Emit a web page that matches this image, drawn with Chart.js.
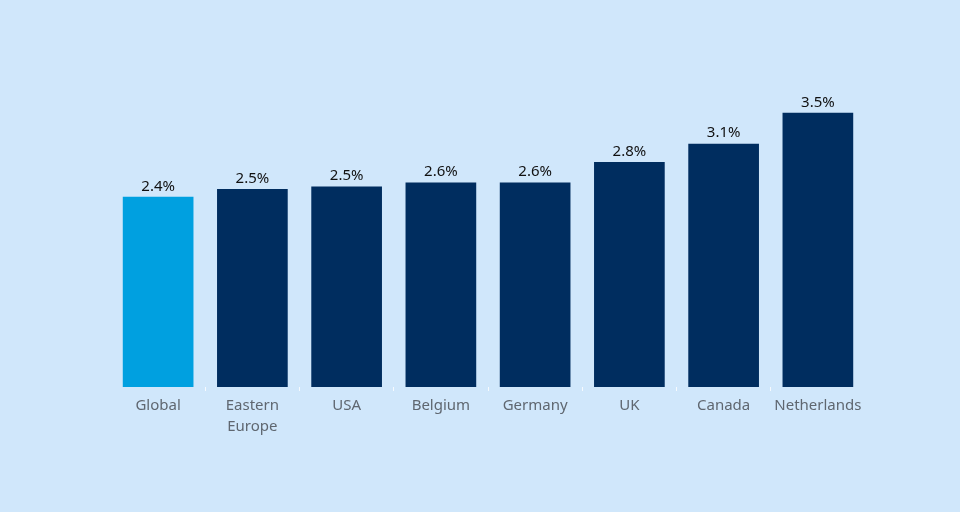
<!DOCTYPE html>
<html>
<head>
<meta charset="utf-8">
<script src="https://cdn.jsdelivr.net/npm/chart.js@4"></script>
<style>
  html, body { margin: 0; padding: 0; background: #d0e7fb; }
  #wrap { width: 960px; height: 512px; }
</style>
</head>
<body>
<div id="wrap"><canvas id="chart"></canvas></div>
<script>
const categories = ["Global", ["Eastern", "Europe"], "USA", "Belgium", "Germany", "UK", "Canada", "Netherlands"];
const growth = [2.4, 2.5, 2.53, 2.58, 2.58, 2.84, 3.07, 3.46];
const barColors = ["#00a0e0", "#002d5f", "#002d5f", "#002d5f", "#002d5f", "#002d5f", "#002d5f", "#002d5f"];

// value labels above bars
const valueLabels = {
    id: "valueLabels",
    afterDatasetsDraw(chart) {
        const ctx = chart.ctx;
        const meta = chart.getDatasetMeta(0);
        ctx.save();
        ctx.font = "15px 'Noto Sans'";
        ctx.fillStyle = "#111111";
        ctx.textAlign = "center";
        ctx.textBaseline = "bottom";
        meta.data.forEach(function (bar, i) {
            ctx.fillText(growth[i].toFixed(1) + "%", bar.x, bar.y - 3);
        });
        ctx.restore();
    }
};

const ctx = document.getElementById("chart").getContext("2d");
new Chart(ctx, {
    type: "bar",
    data: {
        labels: categories,
        datasets: [{
            data: growth,
            backgroundColor: barColors,
            barPercentage: 0.75,
            categoryPercentage: 1.0
        }]
    },
    options: {
        responsive: true,
        maintainAspectRatio: false,
        animation: false,
        layout: { padding: { left: 111, right: 95, top: 70, bottom: 55 } },
        plugins: { legend: { display: false }, tooltip: { enabled: false } },
        scales: {
            x: {
                grid: {
                    display: true,
                    drawOnChartArea: false,
                    offset: true,
                    tickLength: 4,
                    color: function (c) {
                        // no tick at the outer edges
                        if (c.index === undefined || c.index === 0) return "rgba(0,0,0,0)";
                        return "rgba(255,255,255,0.8)";
                    }
                },
                border: { display: false },
                ticks: { color: "#5f6770", font: { family: "'Noto Sans'", size: 15, lineHeight: 1.4 }, padding: 4, maxRotation: 0 },
                afterFit: function (scale) { scale.height = 70; }
            },
            y: {
                display: false,
                min: 0,
                max: 4
            }
        }
    },
    plugins: [valueLabels]
});
</script>
</body>
</html>
